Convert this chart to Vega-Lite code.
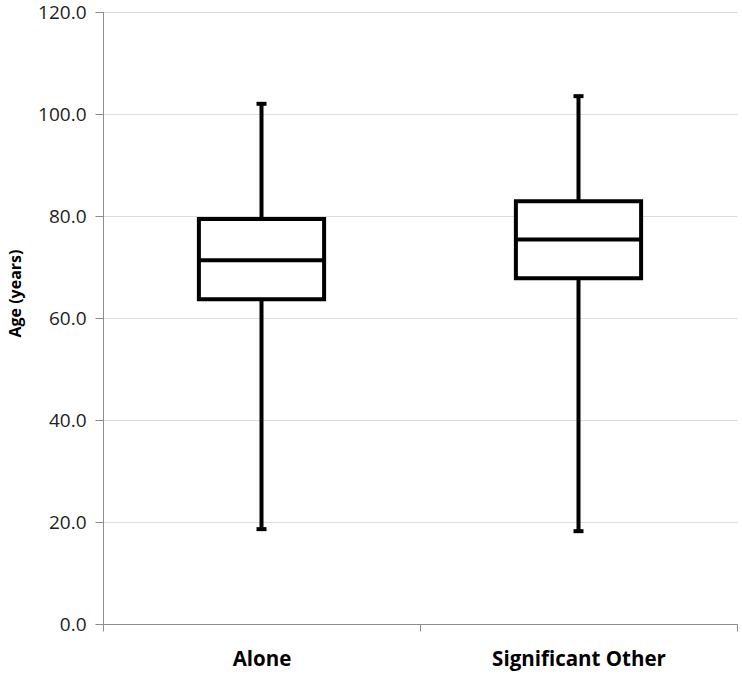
{
  "$schema": "https://vega.github.io/schema/vega-lite/v6.json",
  "autosize": "none",
  "width": 634,
  "height": 612,
  "padding": {"left": 103, "top": 12, "right": 5, "bottom": 51},
  "background": "white",
  "config": {"view": {"stroke": null}, "font": "Open Sans"},
  "data": {"values": [
    {"group": "Alone", "min": 18.6, "q1": 63.7, "median": 71.3, "q3": 79.4, "max": 102.0},
    {"group": "Significant Other", "min": 18.2, "q1": 67.8, "median": 75.4, "q3": 82.9, "max": 103.5}
  ]},
  "encoding": {
    "x": {"field": "group", "type": "nominal", "sort": null,
      "scale": {"paddingInner": 0, "paddingOuter": 0},
      "axis": {"title": null, "labelAngle": 0, "labelFont": "Open Sans", "labelFontWeight": "bold", "labelFontSize": 20.5, "labelColor": "black", "labelPadding": 18,
        "domainColor": "#8c8c8c", "domainWidth": 1, "tickColor": "#8c8c8c", "tickSize": 7, "tickBand": "extent", "grid": false}}
  },
  "layer": [
    {"mark": {"type": "rule", "color": "black", "strokeWidth": 4},
     "encoding": {"y": {"field": "min", "type": "quantitative",
        "scale": {"domain": [0, 120]},
        "axis": {"values": [0, 20, 40, 60, 80, 100, 120], "format": ".1f", "title": "Age (years)", "titleFont": "Open Sans", "titleFontWeight": "bold", "titleFontSize": 16, "titleColor": "black", "titlePadding": 14, "titleY": 281,
          "labelFont": "Open Sans", "labelFontSize": 19, "labelColor": "#222222", "labelPadding": 9,
          "domainColor": "#8c8c8c", "tickColor": "#8c8c8c", "tickSize": 8, "gridColor": "#dcdcdc", "gridWidth": 1}},
       "y2": {"field": "max"}}},
    {"mark": {"type": "bar", "fill": "white", "stroke": "black", "strokeWidth": 4, "width": {"band": 0.395}},
     "encoding": {"y": {"field": "q1", "type": "quantitative"}, "y2": {"field": "q3"}}},
    {"mark": {"type": "tick", "color": "black", "opacity": 1, "thickness": 4, "size": 126},
     "encoding": {"y": {"field": "median", "type": "quantitative"}}},
    {"mark": {"type": "tick", "color": "black", "opacity": 1, "thickness": 4, "size": 10},
     "encoding": {"y": {"field": "max", "type": "quantitative"}}},
    {"mark": {"type": "tick", "color": "black", "opacity": 1, "thickness": 4, "size": 10},
     "encoding": {"y": {"field": "min", "type": "quantitative"}}}
  ]
}
